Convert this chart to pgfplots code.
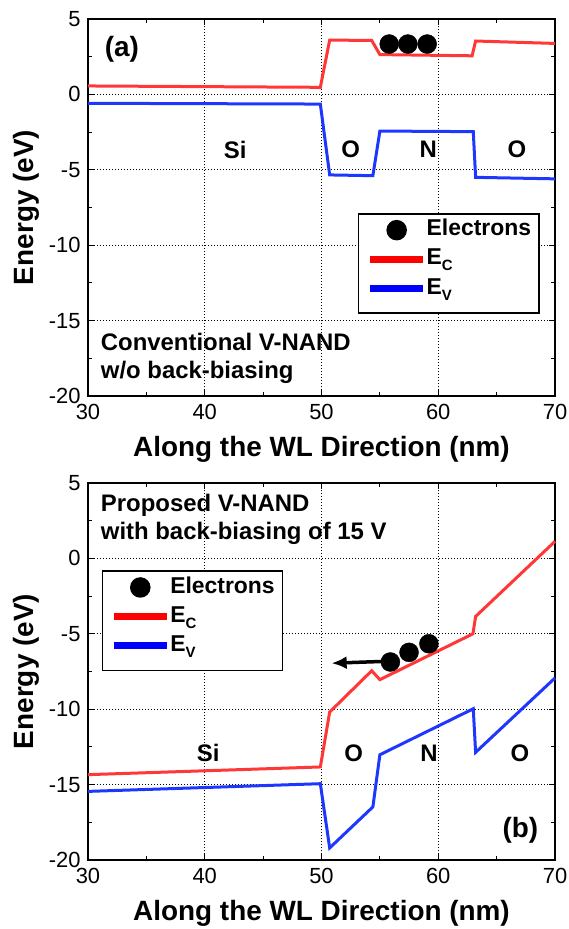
\documentclass[border=0pt]{standalone}
\usepackage{fontspec}
\setmainfont{Liberation Sans}
\usepackage{pgfplots}
\pgfplotsset{compat=1.18}
\usetikzlibrary{arrows.meta}

\definecolor{ecred}{RGB}{255,55,55}
\definecolor{evblue}{RGB}{30,55,255}
\definecolor{legred}{RGB}{255,0,0}
\definecolor{legblue}{RGB}{0,0,255}

\newcommand{\sub}[1]{\raisebox{-6bp}{\fontsize{15}{15}\selectfont #1}}
\newcommand{\labfont}{\fontsize{24}{24}\selectfont\bfseries}
\newcommand{\legtext}[1]{\raisebox{8bp}{#1}}

\pgfplotsset{
  bandaxis/.style={
    scale only axis, width=467bp, height=377bp,
    xmin=30, xmax=70, ymin=-20, ymax=5,
    xtick={30,40,...,70}, ytick={-20,-15,...,5},
    minor x tick num=1, minor y tick num=1,
    grid=major,
    major grid style={black, line width=0.7bp, dash pattern=on 1.2bp off 1.8bp},
    axis line style={line width=1.5bp},
    every tick/.style={black, line width=1bp},
    major tick length=6bp, minor tick length=4bp,
    tick align=inside,
    /pgf/number format/assume math mode=true,
    ticklabel style={font=\fontsize{22}{22}\selectfont},
    xticklabel style={yshift=-5bp},
    yticklabel style={xshift=-4bp},
    xlabel={Along the WL Direction (nm)},
    ylabel={Energy (eV)},
    every axis x label/.style={at={(axis description cs:0.5,-0.142)}, anchor=center,
      font=\fontsize{28}{28}\selectfont\bfseries},
    every axis y label/.style={at={(axis description cs:-0.133,0.5)}, anchor=center, rotate=90,
      font=\fontsize{28}{28}\selectfont\bfseries},
    legend cell align=left,
    legend style={draw=black, line width=1.5bp, fill=white,
      font=\fontsize{23}{23}\selectfont\bfseries,
      inner xsep=8bp, inner ysep=6bp, row sep=7bp,
      nodes={inner sep=0bp, text height=16.5bp, text depth=5bp},
      /tikz/every even column/.style={column sep=12bp}},
    clip=false,
  },
  ecline/.style={ecred, line width=3bp},
  evline/.style={evblue, line width=3bp},
  electron/.style={only marks, mark=*, mark size=9.5bp, black},
}

\newcommand{\bandlegend}{%
  \addlegendimage{legend image code/.code={\fill[black] (26.5bp,7.9bp) circle (9.5bp);}}
  \addlegendentry{\legtext{Electrons}}
  \addlegendimage{legend image code/.code={\draw[legred, line width=7bp] (0bp,7.9bp) -- (53bp,7.9bp);}}
  \addlegendentry{\legtext{E\sub{C}}}
  \addlegendimage{legend image code/.code={\draw[legblue, line width=7bp] (0bp,7.9bp) -- (53bp,7.9bp);}}
  \addlegendentry{\legtext{E\sub{V}}}
}

\begin{document}
\begin{tikzpicture}

% (a) conventional cell, no back bias
\begin{axis}[bandaxis, at={(0,0)}, anchor=north west,
  legend style={at={(0.578,0.485)}, anchor=north west}]
  \bandlegend
  \addplot[ecline, forget plot] coordinates {
    (30,0.56) (49.9,0.47) (50.7,3.6) (54.3,3.58) (55.0,2.64)
    (62.9,2.56) (63.2,3.54) (70,3.38)};
  \addplot[evline, forget plot] coordinates {
    (30,-0.59) (49.9,-0.64) (50.7,-5.34) (54.4,-5.39) (55.0,-2.43)
    (63.0,-2.47) (63.2,-5.5) (70,-5.6)};
  \addplot[electron, forget plot] coordinates {(55.8,3.34) (57.4,3.34) (59.05,3.34)};
  \node[font=\fontsize{28}{28}\selectfont\bfseries] at (axis cs:32.9,3.0) {(a)};
  \node[font=\labfont] at (axis cs:42.6,-3.69) {Si};
  \node[font=\labfont] at (axis cs:52.5,-3.67) {O};
  \node[font=\labfont] at (axis cs:59.14,-3.67) {N};
  \node[font=\labfont] at (axis cs:66.74,-3.67) {O};
  \node[font=\labfont, anchor=base west, inner sep=0pt] at (axis cs:31.09,-16.95) {Conventional V-NAND};
  \node[font=\labfont, anchor=base west, inner sep=0pt] at (axis cs:31.09,-18.83) {w/o back-biasing};
\end{axis}

% (b) proposed cell with 15 V back bias
\begin{axis}[bandaxis, at={(0,-464bp)}, anchor=north west,
  legend style={at={(0.029,0.768)}, anchor=north west}]
  \bandlegend
  \addplot[ecline, forget plot] coordinates {
    (30,-14.34) (49.9,-13.83) (50.7,-10.19) (54.3,-7.45) (55.0,-8.04)
    (62.97,-5.0) (63.2,-3.85) (70,1.13)};
  \addplot[evline, forget plot] coordinates {
    (30,-15.45) (49.9,-14.94) (50.7,-19.2) (54.4,-16.48) (55.0,-13.02)
    (63.0,-9.97) (63.2,-12.86) (70,-7.93)};
  \addplot[black, line width=3.5bp, -{Latex[length=15bp,width=13bp]}, forget plot]
    coordinates {(55.3,-6.83) (50.87,-6.95)};
  \addplot[electron, forget plot] coordinates {(55.9,-6.87) (57.5,-6.23) (59.2,-5.66)};
  \node[font=\labfont, anchor=base west, inner sep=0pt] at (axis cs:31.09,3.12) {Proposed V-NAND};
  \node[font=\labfont, anchor=base west, inner sep=0pt] at (axis cs:31.09,1.24) {with back-biasing of 15 V};
  \node[font=\labfont] at (axis cs:40.3,-12.9) {Si};
  \node[font=\labfont] at (axis cs:52.76,-12.95) {O};
  \node[font=\labfont] at (axis cs:59.2,-12.95) {N};
  \node[font=\labfont] at (axis cs:67.0,-12.95) {O};
  \node[font=\fontsize{28}{28}\selectfont\bfseries] at (axis cs:67.03,-18.04) {(b)};
\end{axis}

\pgfresetboundingbox
\path[use as bounding box] (-88bp,19bp) rectangle (481bp,-910bp);
\end{tikzpicture}
\end{document}
